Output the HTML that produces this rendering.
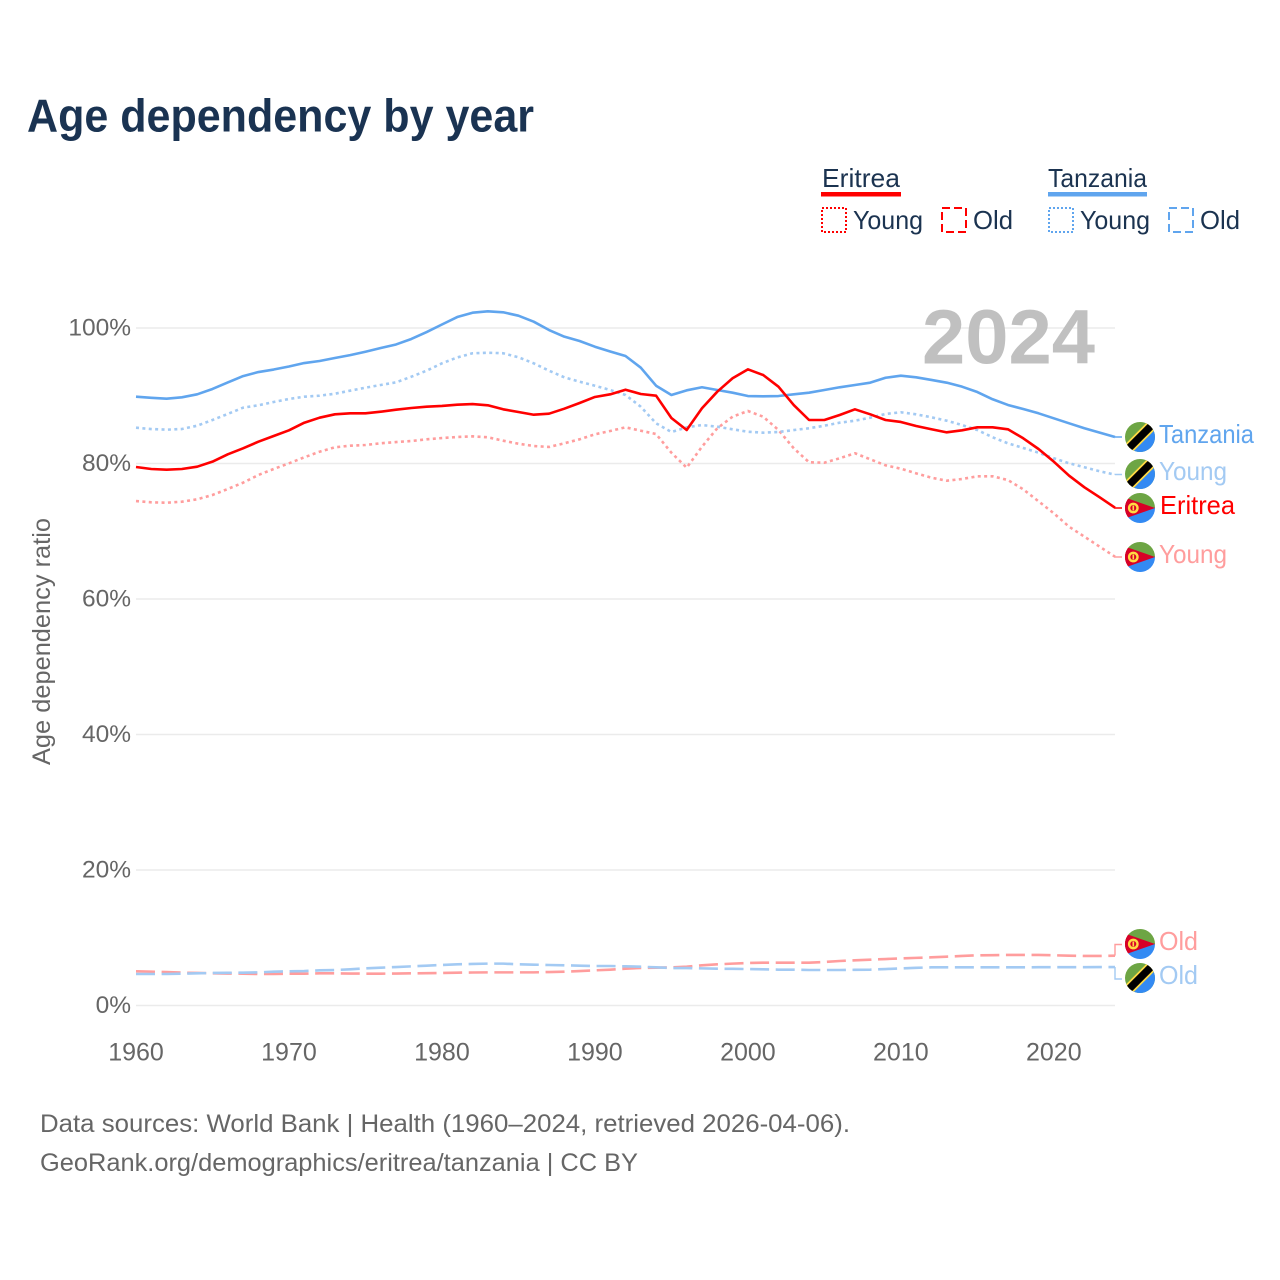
<!DOCTYPE html>
<html lang="en">
<head>
<meta charset="utf-8">
<title>Age dependency by year</title>
<style>
html,body{margin:0;padding:0;background:#fff;}
svg{display:block;font-family:"Liberation Sans",sans-serif;}
</style>
</head>
<body>
<svg id="chart" xmlns="http://www.w3.org/2000/svg" width="1280" height="1280" viewBox="0 0 1280 1280">
  <rect width="1280" height="1280" fill="#fff"/>
  <text x="27" y="131.5" font-size="46" font-weight="700" fill="#1a3352" textLength="507" lengthAdjust="spacingAndGlyphs">Age dependency by year</text>

  <g font-size="26" fill="#1b3350">
    <text x="822" y="187" textLength="78" lengthAdjust="spacingAndGlyphs">Eritrea</text>
    <rect x="821" y="192" width="80" height="4.5" fill="#ff0000"/>
    <rect x="822" y="208" width="24" height="24" fill="none" stroke="#ff0000" stroke-width="2" stroke-dasharray="2 2"/>
    <text x="853" y="229" textLength="70" lengthAdjust="spacingAndGlyphs">Young</text>
    <rect x="942" y="208" width="24" height="24" fill="none" stroke="#ff0000" stroke-width="2" stroke-dasharray="8 4"/>
    <text x="973" y="229" textLength="40" lengthAdjust="spacingAndGlyphs">Old</text>
    <text x="1048" y="187" textLength="99" lengthAdjust="spacingAndGlyphs">Tanzania</text>
    <rect x="1048" y="192" width="99" height="4.5" fill="#60a5ee"/>
    <rect x="1049" y="208" width="24" height="24" fill="none" stroke="#60a5ee" stroke-width="2" stroke-dasharray="2 2"/>
    <text x="1080" y="229" textLength="70" lengthAdjust="spacingAndGlyphs">Young</text>
    <rect x="1169" y="208" width="24" height="24" fill="none" stroke="#60a5ee" stroke-width="2" stroke-dasharray="8 4"/>
    <text x="1200" y="229" textLength="40" lengthAdjust="spacingAndGlyphs">Old</text>
  </g>

  <g id="grid"></g>
  <g id="yticks" font-size="24.5" fill="#666"></g>
  <g id="xticks" font-size="25" fill="#666"></g>

  <text transform="translate(50,641.5) rotate(-90)" text-anchor="middle" font-size="25" fill="#666" textLength="247" lengthAdjust="spacingAndGlyphs">Age dependency ratio</text>
  <text x="922" y="363.5" font-size="77" font-weight="700" fill="#c0c0c0" textLength="173" lengthAdjust="spacingAndGlyphs">2024</text>

  <g id="series" fill="none"></g>

  <defs>
    <clipPath id="flag-clip"><circle cx="0" cy="0" r="15"/></clipPath>
    <g id="flag-tz" clip-path="url(#flag-clip)">
      <rect x="-15" y="-15" width="30" height="30" fill="#6da544"/>
      <polygon points="15,-15 15,15 -15,15" fill="#338af3"/>
      <line x1="-15" y1="15" x2="15" y2="-15" stroke="#ffda44" stroke-width="11"/>
      <line x1="-15" y1="15" x2="15" y2="-15" stroke="#000" stroke-width="7.5"/>
    </g>
    <g id="flag-er" clip-path="url(#flag-clip)">
      <rect x="-15" y="-15" width="30" height="15" fill="#6da544"/>
      <rect x="-15" y="0" width="30" height="15" fill="#338af3"/>
      <polygon points="-15,-10.5 15,0 -15,10.5" fill="#d80027"/>
      <polygon points="-15,-10.5 -11,-9 -11,9 -15,10.5" fill="#d80027"/>
      <circle cx="-6.7" cy="0" r="4.2" fill="none" stroke="#ffda44" stroke-width="2.4"/>
      <rect x="-7.5" y="-2.5" width="1.6" height="5" fill="#ffda44"/>
    </g>
  </defs>

  <g font-size="26">
    <use href="#flag-tz" x="1140" y="437"/>
    <text x="1159" y="443" fill="#60a5ee" textLength="95" lengthAdjust="spacingAndGlyphs">Tanzania</text>
    <use href="#flag-tz" x="1140" y="474"/>
    <text x="1159" y="480" fill="#a3caf3" textLength="68" lengthAdjust="spacingAndGlyphs">Young</text>
    <use href="#flag-er" x="1140" y="508"/>
    <text x="1160" y="514" fill="#ff0000" textLength="75" lengthAdjust="spacingAndGlyphs">Eritrea</text>
    <use href="#flag-er" x="1140" y="557"/>
    <text x="1159" y="563" fill="#ff9d9d" textLength="68" lengthAdjust="spacingAndGlyphs">Young</text>
    <use href="#flag-er" x="1140" y="944"/>
    <text x="1159" y="950" fill="#ff9d9d" textLength="39" lengthAdjust="spacingAndGlyphs">Old</text>
    <use href="#flag-tz" x="1140" y="978"/>
    <text x="1159" y="984" fill="#a3caf3" textLength="39" lengthAdjust="spacingAndGlyphs">Old</text>
  </g>

  <g font-size="25" fill="#666">
    <text x="40" y="1132" textLength="810" lengthAdjust="spacingAndGlyphs">Data sources: World Bank | Health (1960–2024, retrieved 2026-04-06).</text>
    <text x="40" y="1171" textLength="598" lengthAdjust="spacingAndGlyphs">GeoRank.org/demographics/eritrea/tanzania | CC BY</text>
  </g>
</svg>

<script>
const startYear = 1960;
const xTickYears = [1960, 1970, 1980, 1990, 2000, 2010, 2020];
const yTickValues = [0, 20, 40, 60, 80, 100];
const yTickLabels = ['0%', '20%', '40%', '60%', '80%', '100%'];

const tanzaniaTotal = [89.86,89.7,89.56,89.77,90.21,91.0,91.96,92.9,93.5,93.87,94.32,94.83,95.13,95.57,96.0,96.5,97.05,97.57,98.38,99.4,100.52,101.62,102.26,102.46,102.32,101.82,100.93,99.7,98.72,98.08,97.24,96.53,95.87,94.14,91.48,90.11,90.8,91.25,90.85,90.45,89.96,89.92,89.96,90.21,90.45,90.85,91.25,91.59,91.93,92.66,92.96,92.72,92.33,91.93,91.34,90.55,89.48,88.64,88.04,87.41,86.67,85.93,85.2,84.55,83.91];
const tanzaniaYoung = [85.28,85.09,84.99,85.09,85.58,86.42,87.31,88.24,88.59,89.08,89.52,89.86,90.01,90.3,90.75,91.19,91.59,91.98,92.81,93.7,94.79,95.65,96.27,96.35,96.27,95.68,94.79,93.7,92.72,92.07,91.48,90.85,90.11,88.38,85.93,84.65,85.34,85.68,85.43,85.05,84.69,84.55,84.65,84.94,85.2,85.58,86.02,86.32,86.76,87.31,87.56,87.26,86.82,86.32,85.68,84.94,83.87,82.98,82.29,81.59,80.77,80.03,79.44,78.85,78.35];
const tanzaniaOld = [4.65,4.65,4.65,4.70,4.75,4.80,4.82,4.85,4.89,4.99,5.04,5.09,5.19,5.24,5.34,5.48,5.58,5.68,5.78,5.88,5.98,6.08,6.13,6.18,6.18,6.08,6.03,5.98,5.93,5.88,5.83,5.83,5.78,5.73,5.63,5.53,5.53,5.48,5.43,5.41,5.38,5.34,5.29,5.29,5.24,5.24,5.24,5.26,5.29,5.38,5.48,5.56,5.63,5.63,5.63,5.63,5.63,5.63,5.63,5.65,5.65,5.65,5.65,5.68,5.68];
const eritreaTotal = [79.48,79.19,79.08,79.19,79.53,80.27,81.36,82.24,83.22,84.06,84.9,86.02,86.76,87.26,87.41,87.41,87.65,87.94,88.19,88.38,88.49,88.68,88.78,88.59,88.0,87.6,87.2,87.35,88.09,88.93,89.82,90.21,90.89,90.26,90.01,86.72,84.94,88.15,90.6,92.58,93.9,93.06,91.34,88.63,86.42,86.42,87.16,88.0,87.26,86.42,86.13,85.54,85.05,84.6,84.9,85.34,85.34,85.05,83.72,82.14,80.27,78.2,76.49,75.01,73.48];
const eritreaYoung = [74.46,74.27,74.21,74.36,74.72,75.35,76.24,77.17,78.3,79.19,80.03,80.91,81.74,82.39,82.63,82.73,82.98,83.17,83.32,83.57,83.76,83.91,84.01,83.87,83.37,82.92,82.58,82.44,82.98,83.57,84.31,84.8,85.34,84.84,84.35,81.59,79.38,82.48,85.2,86.91,87.75,86.91,84.94,82.24,80.18,80.12,80.77,81.51,80.62,79.73,79.23,78.55,77.9,77.46,77.71,78.11,78.11,77.56,76.19,74.42,72.65,70.67,69.2,67.72,66.24];
const eritreaOld = [5.04,4.99,4.94,4.85,4.80,4.75,4.72,4.70,4.65,4.65,4.70,4.70,4.75,4.75,4.72,4.70,4.70,4.72,4.75,4.77,4.80,4.85,4.87,4.89,4.89,4.89,4.89,4.94,4.99,5.09,5.19,5.29,5.43,5.54,5.58,5.63,5.73,5.93,6.08,6.18,6.27,6.32,6.32,6.32,6.32,6.42,6.57,6.67,6.76,6.86,6.96,7.03,7.11,7.21,7.31,7.41,7.43,7.46,7.46,7.46,7.41,7.36,7.31,7.31,7.36];

const SVG_NS = 'http://www.w3.org/2000/svg';
const plotLeft = 136;
const plotRight = 1115;
const yearSpan = 64;
const zeroY = 1005.5;
const pxPerPercent = 6.775;

function xScale(year) {
  return plotLeft + (year - startYear) * (plotRight - plotLeft) / yearSpan;
}
function yScale(value) {
  return zeroY - value * pxPerPercent;
}

const gridGroup = document.getElementById('grid');
const yTickGroup = document.getElementById('yticks');
const xTickGroup = document.getElementById('xticks');
const seriesGroup = document.getElementById('series');

yTickValues.forEach(function (value, i) {
  const line = document.createElementNS(SVG_NS, 'line');
  
  
  line.setAttribute('x1', plotLeft);
  line.setAttribute('x2', plotRight);
  line.setAttribute('y1', yScale(value));
  line.setAttribute('y2', yScale(value));
  line.setAttribute('stroke', '#ebebeb');
  line.setAttribute('stroke-width', '1.6');
  gridGroup.appendChild(line);

  const label = document.createElementNS(SVG_NS, 'text');
  
  
  label.setAttribute('x', 131);
  label.setAttribute('y', yScale(value) + 7.5);
  label.setAttribute('text-anchor', 'end');
  label.textContent = yTickLabels[i];
  yTickGroup.appendChild(label);
});

xTickYears.forEach(function (year) {
  const label = document.createElementNS(SVG_NS, 'text');
  
  
  label.setAttribute('x', xScale(year));
  label.setAttribute('y', 1060.5);
  label.setAttribute('text-anchor', 'middle');
  label.textContent = String(year);
  xTickGroup.appendChild(label);
});

function linePath(values) {
  return values.map(function (v, i) {
    return (i === 0 ? 'M' : 'L') + xScale(startYear + i).toFixed(2) + ' ' + yScale(v).toFixed(2);
  }).join(' ');
}

function drawSeries(name, values, color, dash) {
  const path = document.createElementNS(SVG_NS, 'path');
  
  
  path.setAttribute('d', linePath(values));
  path.setAttribute('stroke', color);
  path.setAttribute('stroke-width', '2.6');
  path.setAttribute('stroke-linejoin', 'round');
  if (dash) {
    path.setAttribute('stroke-dasharray', dash);
  }
  seriesGroup.appendChild(path);
}

function drawLeader(name, values, color, labelY) {
  const endY = yScale(values[values.length - 1]);
  const path = document.createElementNS(SVG_NS, 'path');
  
  
  path.setAttribute('d', 'M' + plotRight + ' ' + endY + ' L' + plotRight + ' ' + labelY + ' L1122 ' + labelY);
  path.setAttribute('stroke', color);
  path.setAttribute('stroke-width', '1.4');
  seriesGroup.appendChild(path);
}

const dotted = '3 3.4';
const dashed = '19 6.6';
drawSeries('line-eritrea-old', eritreaOld, '#ff9d9d', dashed);
drawSeries('line-tanzania-old', tanzaniaOld, '#a3caf3', dashed);
drawSeries('line-eritrea-young', eritreaYoung, '#ff9d9d', dotted);
drawSeries('line-tanzania-young', tanzaniaYoung, '#a3caf3', dotted);
drawSeries('line-tanzania-total', tanzaniaTotal, '#60a5ee', null);
drawSeries('line-eritrea-total', eritreaTotal, '#ff0000', null);

drawLeader('leader-tanzania-total', tanzaniaTotal, '#60a5ee', 437);
drawLeader('leader-tanzania-young', tanzaniaYoung, '#a3caf3', 474.5);
drawLeader('leader-eritrea-total', eritreaTotal, '#ff0000', 508);
drawLeader('leader-eritrea-young', eritreaYoung, '#ff9d9d', 557);
drawLeader('leader-eritrea-old', eritreaOld, '#ff9d9d', 944.5);
drawLeader('leader-tanzania-old', tanzaniaOld, '#a3caf3', 979);
</script>
</body>
</html>
